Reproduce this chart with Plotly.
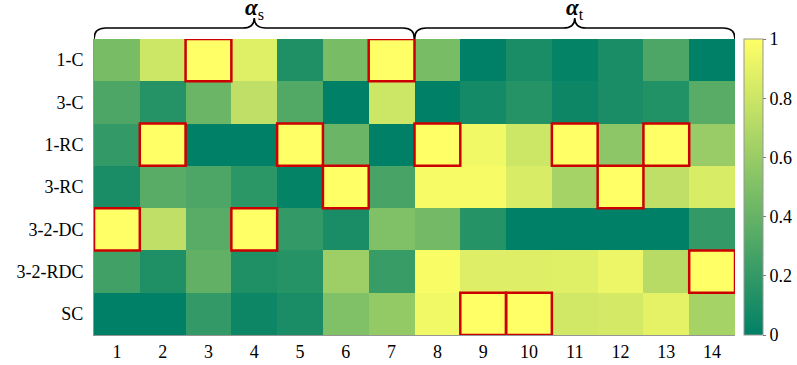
import plotly.graph_objects as go

rows = ["1-C", "3-C", "1-RC", "3-RC", "3-2-DC", "3-2-RDC", "SC"]
cols = list(range(1, 15))

v_1C     = [0.47, 0.80, 1.00, 0.88, 0.12, 0.47, 1.00, 0.47, 0.00, 0.10, 0.02, 0.10, 0.30, 0.00]
v_3C     = [0.30, 0.15, 0.42, 0.75, 0.32, 0.00, 0.80, 0.00, 0.08, 0.15, 0.05, 0.10, 0.13, 0.35]
v_1RC    = [0.20, 1.00, 0.00, 0.00, 1.00, 0.42, 0.00, 1.00, 0.95, 0.80, 1.00, 0.55, 1.00, 0.60]
v_3RC    = [0.10, 0.35, 0.30, 0.17, 0.02, 1.00, 0.28, 0.97, 0.97, 0.85, 0.65, 1.00, 0.75, 0.85]
v_32DC   = [1.00, 0.75, 0.35, 1.00, 0.20, 0.10, 0.50, 0.45, 0.15, 0.00, 0.00, 0.00, 0.00, 0.20]
v_32RDC  = [0.25, 0.12, 0.38, 0.12, 0.15, 0.62, 0.22, 0.98, 0.87, 0.87, 0.88, 0.93, 0.72, 1.00]
v_SC     = [0.00, 0.00, 0.20, 0.05, 0.10, 0.50, 0.58, 0.95, 1.00, 1.00, 0.82, 0.83, 0.90, 0.65]

Z = [v_1C, v_3C, v_1RC, v_3RC, v_32DC, v_32RDC, v_SC]
cbar_ticks = [0, 0.2, 0.4, 0.6, 0.8, 1]
group_labels = ["α", "α"]
group_subs = ["s", "t"]
group_spans = [(1, 7), (8, 14)]

FONT = "Liberation Serif"
W, H = 797, 365
L, R, T, B = 94, 62, 39, 30
plot_w = W - L - R

fig = go.Figure()
fig.add_trace(go.Heatmap(
    z=Z, x=cols, y=list(range(len(rows))),
    zmin=0, zmax=1,
    colorscale=[[0, "rgb(0,128,102)"], [1, "rgb(255,255,102)"]],
    xgap=0, ygap=0,
    colorbar=dict(
        x=(744 - L) / plot_w, xanchor="left", xpad=0,
        y=0, yanchor="bottom", ypad=0,
        len=1, lenmode="fraction",
        thickness=19, outlinewidth=1, outlinecolor="rgb(150,150,150)",
        tickvals=cbar_ticks, ticktext=[f"{t:g}" for t in cbar_ticks],
        ticks="outside", ticklen=3, tickcolor="rgb(120,120,120)",
        tickfont=dict(family=FONT, size=18, color="black"),
    ),
))

# red boxes around maxima
shapes = []
for r, rowvals in enumerate(Z):
    for c, v in enumerate(rowvals):
        if v >= 1.0:
            x = cols[c]
            shapes.append(dict(type="rect", xref="x", yref="y",
                               x0=x - 0.5, x1=x + 0.5, y0=r - 0.5, y1=r + 0.5,
                               line=dict(color="rgb(204,0,0)", width=2.5)))

# braces
y_base, y_mid, y_tip = 1.0, 1.037, 1.071
annots = []
for (a, b), lab, sub in zip(group_spans, group_labels, group_subs):
    x0, x1 = a - 0.5, b + 0.5
    xm = (x0 + x1) / 2
    d = 0.25
    path = (f"M {x0},{y_base} Q {x0},{y_mid} {x0+d},{y_mid} "
            f"L {xm-d},{y_mid} Q {xm},{y_mid} {xm},{y_tip} "
            f"Q {xm},{y_mid} {xm+d},{y_mid} "
            f"L {x1-d},{y_mid} Q {x1},{y_mid} {x1},{y_base}")
    shapes.append(dict(type="path", xref="x", yref="paper", path=path,
                       line=dict(color="black", width=1.6)))
    annots.append(dict(x=xm, y=y_tip, xref="x", yref="paper", yanchor="bottom",
                       showarrow=False, yshift=-7,
                       text=f"<b><i>{lab}</i></b><sub>{sub}</sub>",
                       font=dict(family=FONT, size=23, color="black")))

fig.update_layout(
    width=W, height=H,
    margin=dict(l=L, r=R, t=T, b=B, autoexpand=False),
    paper_bgcolor="white", plot_bgcolor="white",
    shapes=shapes, annotations=annots,
    xaxis=dict(tickvals=cols, ticktext=[str(c) for c in cols], range=[0.5, 14.5],
               showline=True, linecolor="rgb(150,150,150)", linewidth=1, mirror=False,
               ticks="", showgrid=False, zeroline=False, automargin=False,
               tickfont=dict(family=FONT, size=18, color="black")),
    yaxis=dict(tickvals=list(range(len(rows))), ticktext=rows, range=[6.5, -0.5],
               showline=True, linecolor="rgb(150,150,150)", linewidth=1, mirror=False,
               ticks="", showgrid=False, zeroline=False, ticklabelstandoff=6, automargin=False,
               tickfont=dict(family=FONT, size=18, color="black")),
)

fig.write_html("out.html", config={"displayModeBar": False},
               post_script="document.body.style.margin='0';")
